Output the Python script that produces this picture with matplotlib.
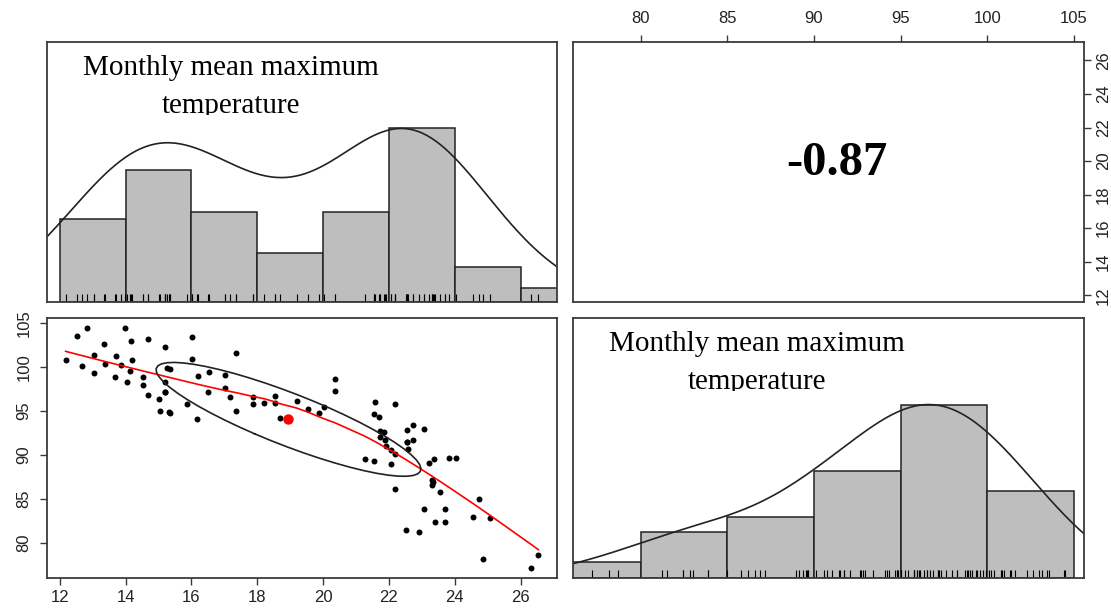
import numpy as np
import matplotlib
matplotlib.use("Agg")
import matplotlib.pyplot as plt
from matplotlib.patches import Rectangle

# scatter data
temp_x = [12.18, 12.52, 12.67, 12.83, 13.03, 13.03, 13.35, 13.38, 13.70, 13.68,
          13.85, 13.98, 14.03, 14.18, 14.19, 14.15, 14.54, 14.54, 14.68, 14.67,
          15.01, 15.04, 15.19, 15.20, 15.19, 15.27, 15.36, 15.35, 15.86, 16.02,
          16.02, 16.18, 16.20, 16.54, 16.52, 17.02, 17.03, 17.18, 17.36, 17.36,
          17.87, 17.86, 18.21, 18.53, 18.53, 18.68, 19.20, 19.53, 19.89, 20.02,
          20.35, 20.37, 21.28, 21.56, 21.59, 21.56, 21.71, 21.72, 21.86, 21.72,
          21.87, 21.90, 22.05, 22.05, 22.18, 22.18, 22.19, 22.54, 22.54, 22.57,
          22.73, 22.73, 22.53, 22.90, 23.06, 23.06, 23.21, 23.38, 23.31, 23.35,
          23.30, 23.41, 23.56, 23.71, 23.70, 23.82, 24.03, 24.55, 24.74, 24.87,
          25.06, 26.32, 26.54, 15.33, 15.21, 22.55]
temp_y = [100.85, 103.56, 100.09, 104.47, 101.34, 99.37, 102.66, 100.39, 101.30, 98.84,
          100.20, 104.43, 98.24, 102.96, 100.77, 99.60, 98.88, 97.98, 103.15, 96.84,
          96.35, 95.03, 102.28, 98.24, 97.14, 99.90, 99.75, 94.80, 95.75, 103.45,
          100.96, 94.12, 99.03, 99.41, 97.14, 99.11, 97.64, 96.54, 101.60, 95.03,
          96.54, 95.75, 95.94, 96.69, 95.94, 94.24, 96.13, 95.26, 94.77, 95.45,
          98.69, 97.33, 89.52, 89.37, 96.05, 94.69, 94.35, 92.73, 92.65, 92.08,
          91.71, 91.06, 90.57, 88.99, 95.75, 90.12, 86.19, 92.84, 91.52, 90.73,
          93.41, 91.71, 81.51, 81.25, 92.92, 83.89, 89.14, 89.59, 87.18, 86.91,
          86.57, 82.45, 85.78, 83.89, 82.45, 89.63, 89.63, 83.02, 84.98, 78.19,
          82.87, 77.17, 78.68, 94.85, 97.20, 91.45]
x_breaks = [12, 14, 16, 18, 20, 22, 24, 26, 28]
y_breaks = [75, 80, 85, 90, 95, 100, 105]
x_ticks = [12, 14, 16, 18, 20, 22, 24, 26]
y_ticks = [80, 85, 90, 95, 100, 105]
label_lines = ["Monthly mean maximum", "temperature"]
corr_text = "-0.87"

x = np.array(temp_x)
y = np.array(temp_y)


def pad_range(v):
    d = (v.max() - v.min()) * 0.04
    return v.min() - d, v.max() + d


def kde(v):
    # R density(bw="nrd", adjust=1.2), scaled to max 1
    sd = v.std(ddof=1)
    iqr = np.percentile(v, 75) - np.percentile(v, 25)
    bw = 1.06 * min(sd, iqr / 1.34) * len(v) ** -0.2 * 1.2
    g = np.linspace(v.min() - 3 * bw, v.max() + 3 * bw, 512)
    d = np.exp(-0.5 * ((g[:, None] - v[None, :]) / bw) ** 2).sum(1)
    return g, d / d.max()


def lowess(xx, yy, f=2 / 3, it=3):
    o = np.argsort(xx)
    xx, yy = xx[o], yy[o]
    n = len(xx)
    r = int(np.ceil(f * n))
    h = np.array([np.sort(np.abs(xx - xx[i]))[r - 1] for i in range(n)])
    w = np.clip(np.abs(xx[None, :] - xx[:, None]) / h[:, None], 0, 1)
    w = (1 - w ** 3) ** 3
    fit = np.zeros(n)
    rob = np.ones(n)
    for _ in range(it + 1):
        for i in range(n):
            wi = rob * w[i]
            A = np.array([[wi.sum(), (wi * xx).sum()], [(wi * xx).sum(), (wi * xx * xx).sum()]])
            b = np.array([(wi * yy).sum(), (wi * yy * xx).sum()])
            beta = np.linalg.solve(A, b)
            fit[i] = beta[0] + beta[1] * xx[i]
        res = yy - fit
        s = np.median(np.abs(res))
        u = np.clip(res / (6 * s), -1, 1)
        rob = (1 - u ** 2) ** 2
    return xx, fit


xlim = pad_range(x)
ylim = pad_range(y)

plt.rcParams['font.family'] = ['Liberation Sans', 'DejaVu Sans']
fig = plt.figure(figsize=(11.11, 6.11), dpi=100)
W, H = 1111, 611


def box(l, t, r, b):
    return fig.add_axes([l / W, 1 - b / H, (r - l) / W, (b - t) / H])


ax_tl = box(46.7, 41.7, 557.3, 302)
ax_tr = box(572.7, 41.7, 1083.7, 302)
ax_bl = box(46.7, 318, 557.3, 577.7)
ax_br = box(572.7, 318, 1083.7, 577.7)

frame_col = '#3a3a3a'
for a in (ax_tl, ax_tr, ax_bl, ax_br):
    for s in a.spines.values():
        s.set_color(frame_col)
        s.set_linewidth(1.3)
    a.tick_params(direction='out', length=5, width=1, color=frame_col,
                  labelsize=12, labelcolor='#222222')


def diag_hist(a, v, breaks, lim):
    cnt, edges = np.histogram(v, bins=breaks)
    a.bar(edges[:-1], cnt / cnt.max(), width=np.diff(edges), align='edge',
          color='#bebebe', edgecolor='#222222', linewidth=1.1)
    g, d = kde(v)
    a.plot(g, d, color='#222222', lw=1.2)
    a.vlines(v, 0, 0.03, transform=a.get_xaxis_transform(), color='black', lw=0.8)
    a.set_xlim(lim)
    a.set_ylim(0, 1.5)
    a.set_xticks([])
    a.set_yticks([])


diag_hist(ax_tl, x, x_breaks, xlim)
diag_hist(ax_br, y, y_breaks, ylim)

serif = ['Liberation Serif', 'DejaVu Serif']
for a in (ax_tl, ax_br):
    a.text(0.36, 0.873, label_lines[0], transform=a.transAxes, ha='center',
           va='baseline', family=serif, fontsize=21)
    t2 = a.text(0.36, 0.727, label_lines[1], transform=a.transAxes, ha='center',
                va='baseline', family=serif, fontsize=21)
    # the second line is cut just under its baseline in the original
    clip = Rectangle((0, 0.718), 1, 0.2, transform=a.transAxes)
    t2.set_clip_path(clip)
    t2.set_clip_on(True)

# correlation panel
ax_tr.set_xlim(ylim)
ax_tr.set_ylim(xlim)
ax_tr.xaxis.tick_top()
ax_tr.yaxis.tick_right()
ax_tr.set_xticks(y_ticks)
ax_tr.set_yticks(x_ticks)
ax_tr.tick_params(axis='x', pad=6)
ax_tr.tick_params(axis='y', pad=4)
for lb in ax_tr.get_yticklabels():
    lb.set_rotation(90)
    lb.set_va('center')
ax_tr.text(0.518, 0.534, corr_text, transform=ax_tr.transAxes, ha='center',
           va='center', family=serif, fontweight='bold', fontsize=35)

# scatter with lowess and correlation ellipse
ax_bl.plot(x, y, 'o', color='black', ms=4.3, mew=0)
lx, ly = lowess(x, y)
ax_bl.plot(lx, ly, color='red', lw=1.2)
xm, ym = x.mean(), y.mean()
xs, ys = x.std(ddof=1), y.std(ddof=1)
r = np.corrcoef(x, y)[0, 1]
ang = np.linspace(0, 2 * np.pi, 52)
circ = np.column_stack([np.cos(ang), np.sin(ang)])
th = np.sign(r) / np.sqrt(2)
shape = np.diag([np.sqrt(1 + r), np.sqrt(1 - r)]) @ np.array([[th, th], [-th, th]])
ell = circ @ shape
ax_bl.plot(ell[:, 0] * xs + xm, ell[:, 1] * ys + ym, color='#222222', lw=1.2)
ax_bl.plot(xm, ym, 'o', color='red', ms=7.5, mew=0)
ax_bl.set_xlim(xlim)
ax_bl.set_ylim(ylim)
ax_bl.set_xticks(x_ticks)
ax_bl.set_yticks(y_ticks)
ax_bl.tick_params(axis='x', pad=4)
ax_bl.tick_params(axis='y', pad=6)
for lb in ax_bl.get_yticklabels():
    lb.set_rotation(90)
    lb.set_va('center')

fig.savefig('out.png', dpi=100)
